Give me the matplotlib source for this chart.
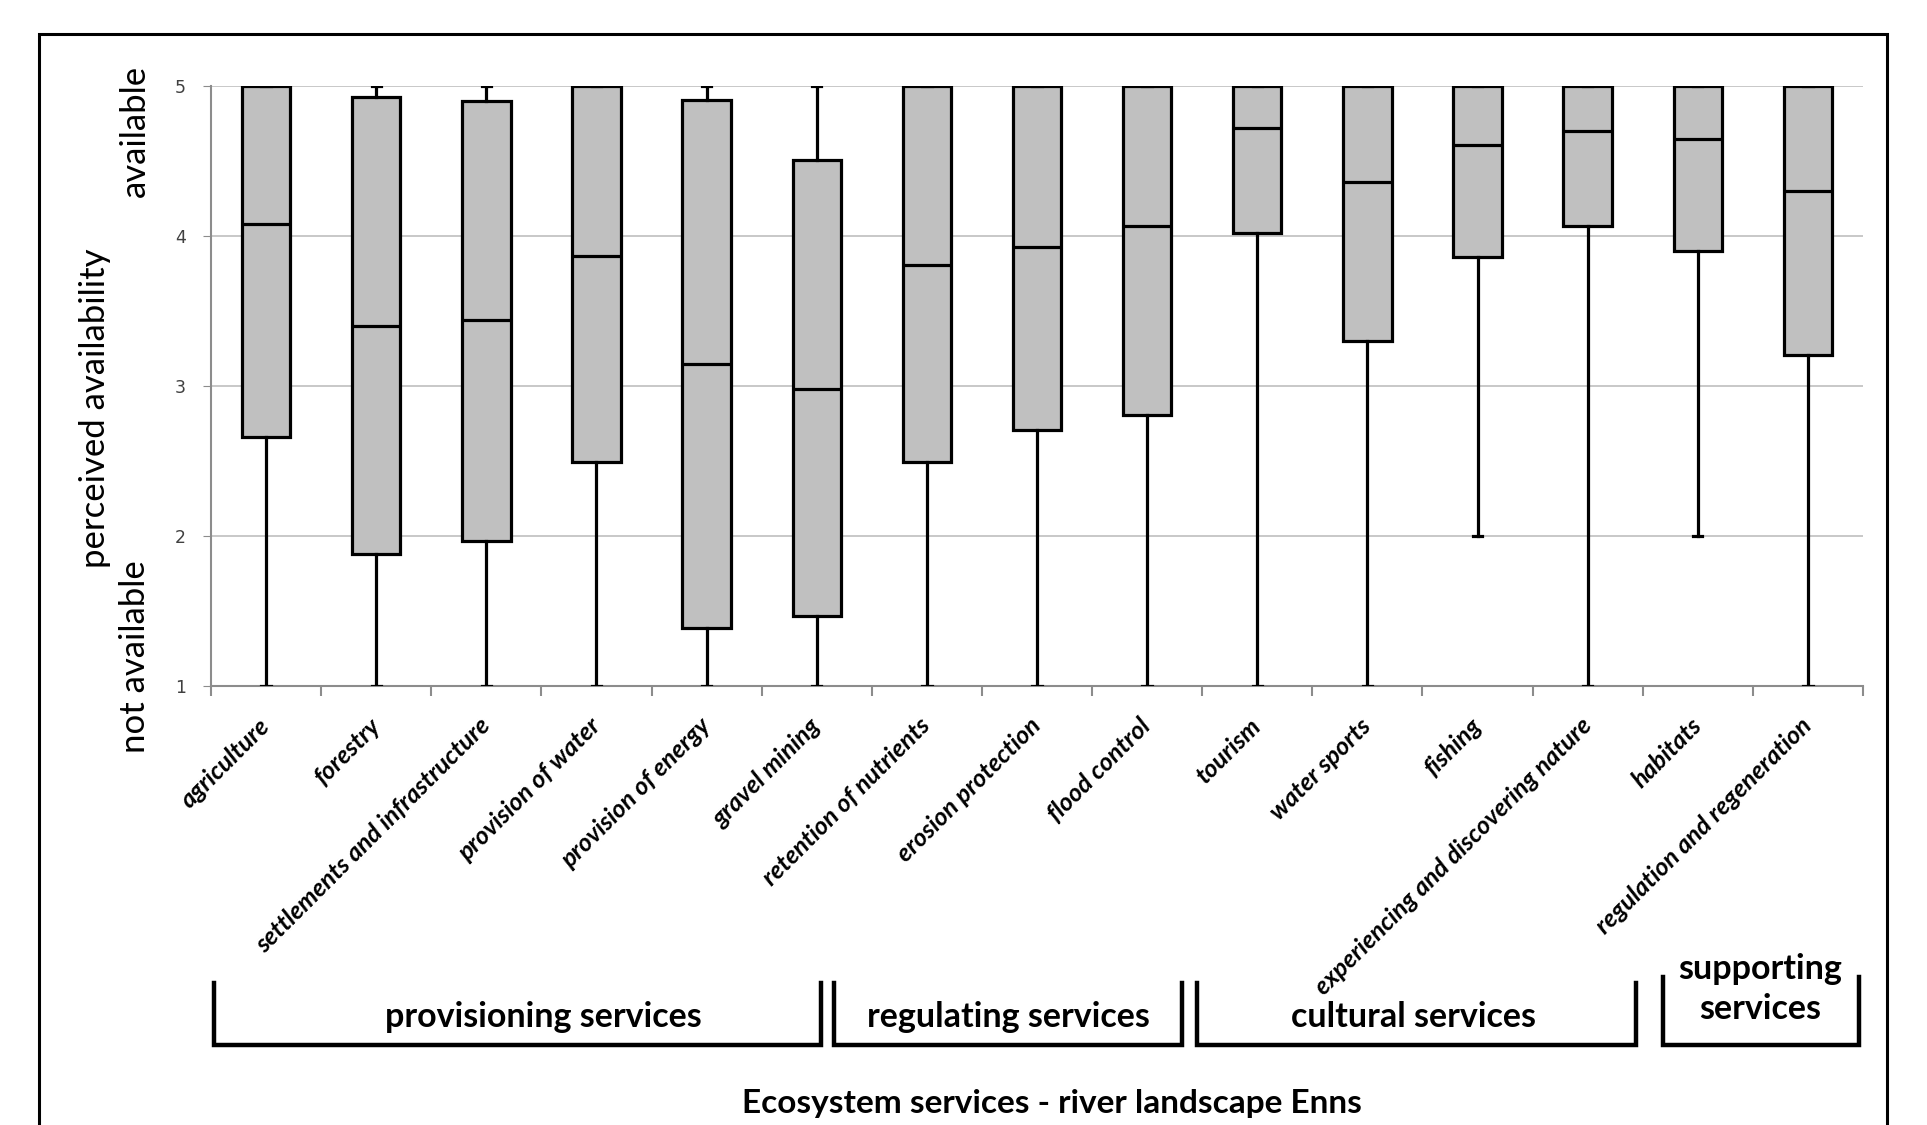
import matplotlib.pyplot as plt
from matplotlib.patches import Rectangle
from matplotlib.lines import Line2D
import matplotlib.transforms as mtransforms

# --- Data ---
services = [
    'agriculture', 'forestry', 'settlements and infrastructure',
    'provision of water', 'provision of energy', 'gravel mining',
    'retention of nutrients', 'erosion protection', 'flood control',
    'tourism', 'water sports', 'fishing',
    'experiencing and discovering nature', 'habitats',
    'regulation and regeneration',
]
whisker_low = [1, 1, 1, 1, 1, 1, 1, 1, 1, 1, 1, 2, 1, 2, 1]
q1 = [2.66, 1.88, 1.97, 2.49, 1.39, 1.47, 2.49, 2.71, 2.81, 4.02, 3.30, 3.86, 4.07, 3.90, 3.21]
median = [4.08, 3.40, 3.44, 3.87, 3.15, 2.98, 3.81, 3.93, 4.07, 4.72, 4.36, 4.61, 4.70, 4.65, 4.30]
q3 = [5, 4.93, 4.90, 5, 4.91, 4.51, 5, 5, 5, 5, 5, 5, 5, 5, 5]
whisker_high = [5, 5, 5, 5, 5, 5, 5, 5, 5, 5, 5, 5, 5, 5, 5]

groups = ['provisioning services', 'regulating services', 'cultural services', 'supporting\nservices']
# bracket extents in category units
group_left = [-0.47, 5.16, 8.45, 12.68]
group_right = [5.04, 8.32, 12.44, 14.46]
# label shift from bracket centre (category units)
group_shift = [0.23, 0.0, -0.03, 0.0]

W, H = 1927, 1125
fig = plt.figure(figsize=(W / 100, H / 100), dpi=100)
ax = fig.add_axes([211 / W, 1 - 686 / H, (1863 - 211) / W, 600 / H])

stats = []
for i, name in enumerate(services):
    stats.append(dict(label=name, whislo=whisker_low[i], q1=q1[i], med=median[i],
                      q3=q3[i], whishi=whisker_high[i], fliers=[]))

lw = 2.3
ax.bxp(stats, positions=range(len(services)), widths=0.44, patch_artist=True,
       showfliers=False, capwidths=0.085,
       boxprops=dict(facecolor='#c0c0c0', edgecolor='black', linewidth=lw),
       medianprops=dict(color='black', linewidth=lw),
       whiskerprops=dict(color='black', linewidth=lw),
       capprops=dict(color='black', linewidth=lw), zorder=3)

ax.set_xlim(-0.5, len(services) - 0.5)
ax.set_ylim(1, 5)
ax.set_yticks([1, 2, 3, 4, 5])
ax.yaxis.grid(True, color='#bfbfbf', linewidth=1.2, zorder=0)
ax.set_axisbelow(True)
for s in ['top', 'right']:
    ax.spines[s].set_visible(False)
for s in ['left', 'bottom']:
    ax.spines[s].set_color('#8c8c8c')
    ax.spines[s].set_linewidth(1.5)

ax.tick_params(axis='y', direction='out', length=6, color='#8c8c8c',
               labelsize=12.5, labelcolor='#404040', pad=12)
for t in ax.get_yticklabels():
    t.set_fontfamily('DejaVu Sans')

ax.set_xticks(range(len(services)))
ax.set_xticklabels(services, rotation=45, ha='right', va='center',
                   rotation_mode='anchor', fontfamily='Lato',
                   fontweight='bold', fontstyle='italic', fontsize=18)
ax.tick_params(axis='x', which='major', length=0, pad=26)
ax.set_xticks([i - 0.5 for i in range(len(services) + 1)], minor=True)
ax.tick_params(axis='x', which='minor', direction='out', length=7,
               color='#8c8c8c', width=1.5)

# --- group brackets ---
trans = mtransforms.blended_transform_factory(ax.transData, ax.transAxes)
for g, (name, x0, x1) in enumerate(zip(groups, group_left, group_right)):
    top = -0.495 if g < 3 else -0.485
    bot = -0.598
    ax.add_line(Line2D([x0, x0, x1, x1], [top, bot, bot, top], transform=trans,
                       color='black', linewidth=3.2, clip_on=False,
                       solid_joinstyle='miter'))
    ty = -0.552 if g < 3 else -0.505
    ax.text((x0 + x1) / 2 + group_shift[g], ty, name, transform=trans,
            ha='center', va='center', fontfamily='Lato', fontweight='bold',
            fontsize=24.5, linespacing=1.3)

ax.text(0.509, -0.696, 'Ecosystem services - river landscape Enns', transform=ax.transAxes,
        ha='center', va='center', fontfamily='Lato', fontweight='bold', fontsize=24)

# --- y labels ---
fig.text(95 / W, 1 - 408 / H, 'perceived availability', rotation=90, ha='center',
         va='center', fontfamily='Lato', fontsize=25)
fig.text(135 / W, 1 - 131 / H, 'available', rotation=90, ha='center',
         va='center', fontfamily='Lato', fontsize=25)
fig.text(135 / W, 1 - 657 / H, 'not available', rotation=90, ha='center',
         va='center', fontfamily='Lato', fontsize=25)

# --- outer frame ---
fig.add_artist(Rectangle((39 / W, -0.05), (1887 - 39) / W, 1.05 - 34 / H,
                         transform=fig.transFigure, fill=False,
                         edgecolor='black', linewidth=2.2))

plt.savefig('out.png', dpi=100)
